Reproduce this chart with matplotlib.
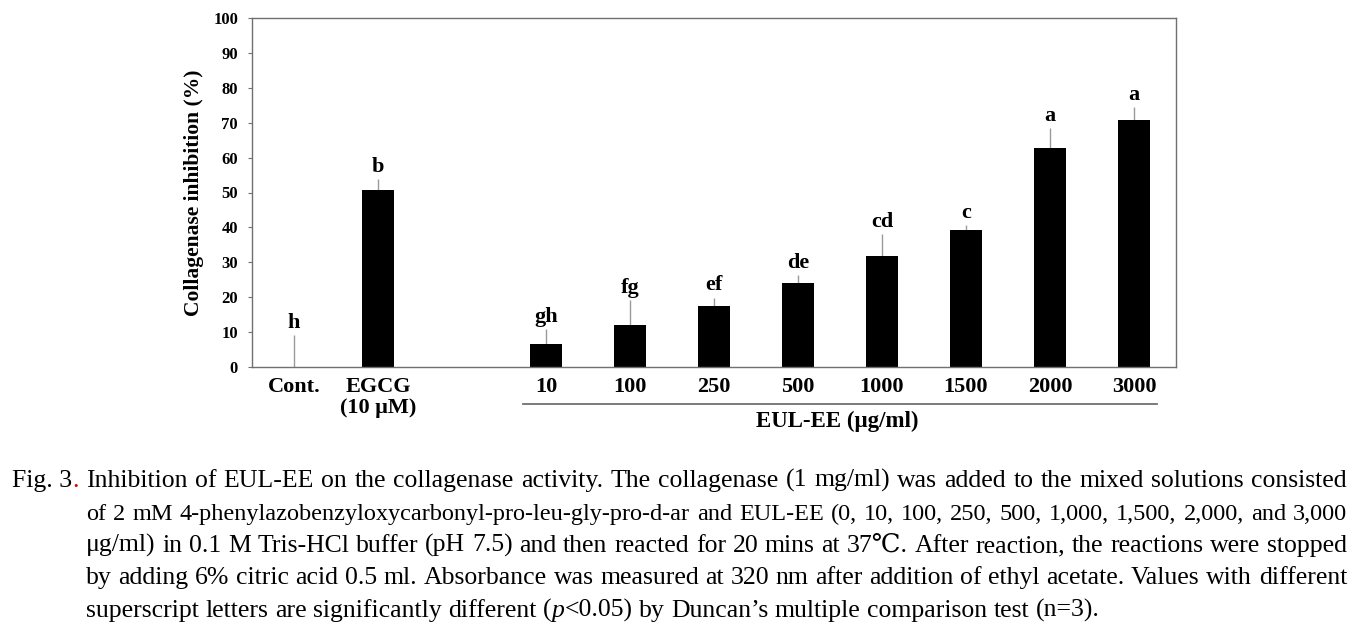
import numpy as np
import matplotlib
matplotlib.use("Agg")
import matplotlib.pyplot as plt
from matplotlib.transforms import blended_transform_factory

# ---- data ----
categories = ["Cont.", "EGCG\n(10 μM)", "10", "100", "250", "500", "1000", "1500", "2000", "3000"]
values = [0.0, 50.7, 6.5, 11.9, 17.5, 24.0, 31.9, 39.3, 62.8, 70.7]
errors = [9.2, 3.1, 4.4, 7.3, 2.4, 2.4, 6.2, 1.4, 5.7, 3.8]
letters = ["h", "b", "gh", "fg", "ef", "de", "cd", "c", "a", "a"]
yticks = [0, 10, 20, 30, 40, 50, 60, 70, 80, 90, 100]
group_label = "EUL-EE (μg/ml)"
ylabel = "Collagenase inhibition (%)"

caption_lines = [
    "Inhibition of EUL-EE on the collagenase activity. The collagenase (1 mg/ml) was added to the mixed solutions consisted",
    "of 2 mM 4-phenylazobenzyloxycarbonyl-pro-leu-gly-pro-d-ar and EUL-EE (0, 10, 100, 250, 500, 1,000, 1,500, 2,000, and 3,000",
    "μg/ml) in 0.1 M Tris-HCl buffer (pH 7.5) and then reacted for 20 mins at 37℃. After reaction, the reactions were stopped",
    "by adding 6% citric acid 0.5 ml. Absorbance was measured at 320 nm after addition of ethyl acetate. Values with different",
    "superscript letters are significantly different (p<0.05) by Duncan’s multiple comparison test (n=3).",
]

W, H = 1366, 627
fig = plt.figure(figsize=(W / 100, H / 100), dpi=100)
fig.patch.set_facecolor("white")

serif = ["Liberation Serif", "DejaVu Serif"]
ax = fig.add_axes([252 / W, 1 - 367 / H, 924 / W, 349 / H])

x = np.array([0, 1] + list(range(3, 3 + len(values) - 2)), dtype=float)
ax.bar(x, values, width=0.39, color="black", zorder=2)
ax.errorbar(x, values, yerr=[np.zeros(len(errors)), errors], fmt="none",
            ecolor="#9a9a9a", elinewidth=1.0, capsize=0, zorder=1)
for xi, v, e, l in zip(x, values, errors, letters):
    ax.annotate(l, (xi, v + e), xytext=(0, 1.5), textcoords="offset points",
                ha="center", va="bottom", fontsize=16, fontweight="bold",
                family=serif)

ax.set_xlim(-0.5, 10.5)
ax.set_ylim(0, 100)
ax.set_yticks(yticks)
ax.set_yticklabels([str(t) for t in yticks], fontsize=12, fontweight="bold", family=serif)
ax.set_xticks(x)
ax.set_xticklabels(categories, fontsize=16, fontweight="bold", family=serif, linespacing=1.1)
ax.tick_params(axis="x", length=0, pad=7)
ax.tick_params(axis="y", length=3, width=0.8, color="#707070", pad=7)
for s in ax.spines.values():
    s.set_color("#707070")
    s.set_linewidth(1.0)
ax.set_ylabel(ylabel, fontsize=15.5, fontweight="bold", family=serif, labelpad=7)

tr = blended_transform_factory(ax.transData, ax.transAxes)
ax.plot([2.73, 10.27], [-0.106, -0.106], color="#707070", lw=1.3, transform=tr, clip_on=False)
ax.text(6.47, -0.155, group_label, transform=tr, ha="center", va="center",
        fontsize=16.5, fontweight="bold", family=serif)

# ---- caption (justified) ----
fig.canvas.draw()
renderer = fig.canvas.get_renderer()
cap_fs = 18.5
baselines = [487, 520, 552, 584, 617]
left, right = 86, 1347


def py(y):
    return 1 - y / H


def measure(s, fs, st="normal"):
    t = fig.text(0, 0, s, fontsize=fs, family=serif, style=st)
    w = t.get_window_extent(renderer).width
    t.remove()
    return w


t1 = fig.text(12 / W, py(baselines[0]), "Fig. 3", fontsize=cap_fs, family=serif, va="baseline")
w1 = t1.get_window_extent(renderer).width
fig.text((12 + w1) / W, py(baselines[0]), ".", fontsize=cap_fs, family=serif,
         va="baseline", color="#d40000")

for i, line in enumerate(caption_lines):
    words = line.split(" ")
    texts = []
    for w in words:
        if w == "(p<0.05)":
            parts = [("(", "normal"), ("p", "italic"), ("<0.05)", "normal")]
        else:
            parts = [(w, "normal")]
        texts.append(parts)
    fs = cap_fs
    justify = i < len(caption_lines) - 1
    space = measure("a a", fs) - measure("aa", fs)
    if justify:
        natural = sum(measure(s, fs, st) for parts in texts for s, st in parts) + space * (len(words) - 1)
        if natural > right - left:
            fs = fs * (right - left) / natural * 0.995
            space = measure("a a", fs) - measure("aa", fs)
    widths = []
    objs = []
    for parts in texts:
        tot = 0
        po = []
        for s, st in parts:
            t = fig.text(0, py(baselines[i]), s, fontsize=fs, family=serif,
                         style=st, va="baseline")
            ww = t.get_window_extent(renderer).width
            po.append((t, ww))
            tot += ww
        widths.append(tot)
        objs.append(po)
    total = sum(widths)
    gap = (right - left - total) / (len(words) - 1) if justify else space
    xc = left
    for po, ww in zip(objs, widths):
        xx = xc
        for t, w in po:
            t.set_x(xx / W)
            xx += w
        xc += ww + gap

fig.savefig("out.png", dpi=100, facecolor="white")
